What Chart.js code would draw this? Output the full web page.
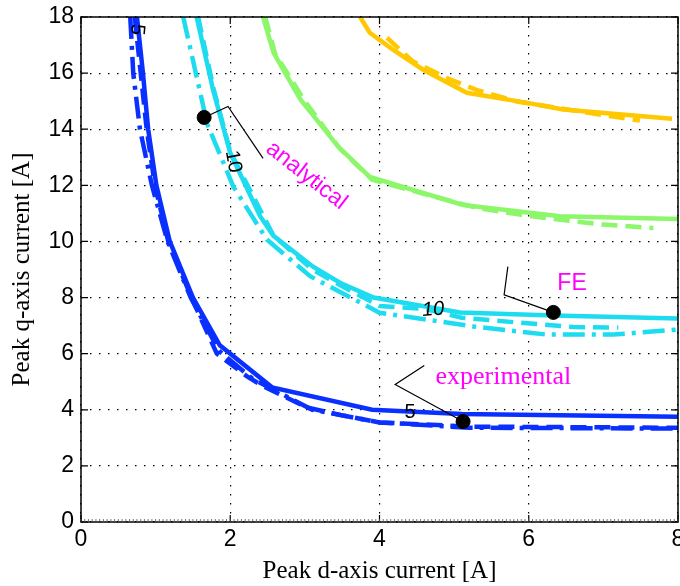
<!DOCTYPE html>
<html>
<head>
<meta charset="utf-8">
<script src="https://cdn.jsdelivr.net/npm/chart.js@4/dist/chart.umd.min.js"></script>
<style>
  html, body { margin: 0; padding: 0; background: #fff; }
  #wrap { width: 680px; height: 586px; }
</style>
</head>
<body>
<div id="wrap"><canvas id="chart"></canvas></div>
<script>
// axis ticks
const xTicks = [0, 2, 4, 6, 8];
const yTicks = [0, 2, 4, 6, 8, 10, 12, 14, 16, 18];

// torque contours [d-current, q-current]
// 5 (blue)
const blueFE = [[0.75,18],[0.83,16],[0.90,14],[1.01,12],[1.19,10],[1.50,8],[1.86,6.3],[2.56,4.8],[3.9,4.0],[5.1,3.85],[8,3.75]];
const blueExp = [[0.72,18],[0.80,16],[0.88,14],[0.99,12],[1.17,10],[1.48,8],[1.82,6.0],[2.22,5.2],[2.44,4.84],[3.03,4.08],[3.5,3.8],[4.0,3.55],[5.2,3.4],[8,3.36]];
const blueAna = [[0.66,18],[0.70,16],[0.79,14],[0.95,12],[1.16,10],[1.47,8],[1.85,6.1],[2.3,5.1],[2.7,4.55],[3.1,4.0],[4.0,3.55],[5.2,3.36],[8,3.33]];
// 10 (cyan)
const cyanFE = [[1.55,18],[1.77,15.4],[2.0,13.15],[2.4,10.9],[2.58,10.2],[3.11,9.1],[3.47,8.53],[3.92,8.0],[5.08,7.47],[6.33,7.36],[8,7.25]];
const cyanExp = [[1.57,18],[1.78,15.4],[2.0,13.2],[2.58,10.2],[3.1,9.0],[3.5,8.4],[4.0,7.7],[4.6,7.6],[5.1,7.28],[5.9,7.1],[6.6,6.95],[7.2,6.93]];
const cyanAna = [[1.37,18],[1.69,14.2],[2.04,11.96],[2.49,10.07],[3.07,8.76],[4.0,7.46],[5.26,6.97],[6.24,6.68],[7.13,6.68],[8,6.86]];
// 15 (green)
const greenFE = [[2.44,18],[2.58,16.73],[2.94,15.06],[3.44,13.4],[3.87,12.3],[5.12,11.3],[6.42,10.9],[8,10.8]];
const greenExp = [[2.47,18],[2.6,16.7],[3.0,15.0],[3.47,13.3],[3.9,12.2],[4.45,11.8],[5.3,11.2],[5.9,10.95],[6.4,10.78],[7.0,10.6],[7.67,10.48]];
// 20 (orange)
const orangeFE = [[3.74,18],[3.87,17.44],[4.18,16.84],[4.58,16.13],[5.17,15.3],[5.98,14.94],[6.46,14.7],[7.92,14.37]];
const orangeExp = [[4.1,17.26],[4.45,16.41],[4.95,15.77],[5.3,15.4],[5.84,14.99],[7.13,14.45],[7.49,14.31]];

// marked points
const markers = [[1.65,14.42],[6.33,7.47],[5.12,3.58]];

// leader lines from the markers to their labels
const leaders = [
  [[1.65,14.42],[1.97,14.81],[2.44,12.96]],
  [[6.33,7.47],[5.67,8.1],[5.72,9.1]],
  [[5.12,3.58],[4.21,4.9],[4.6,5.58]]
];

// texts: [text, x, y, rotation deg, font, colour]
const notes = [
  ["analytical", 3.02, 12.35, 38, "23px 'Liberation Sans'", "#ff00ff"],
  ["FE", 6.58, 8.5, 0, "23px 'Liberation Sans'", "#ff00ff"],
  ["experimental", 5.66, 5.15, 0, "26px 'Liberation Serif'", "#ff00ff"],
  ["5", 0.75, 17.55, 95, "20px 'Liberation Sans'", "#000"],
  ["10", 2.04, 12.85, 80, "20px 'Liberation Sans'", "#000"],
  ["10", 4.72, 7.57, -4, "italic 20px 'Liberation Sans'", "#000"],
  ["5", 4.41, 3.9, 0, "20px 'Liberation Sans'", "#000"]
];

const BLUE = "#0a30ff", CYAN = "#1edcf0", GREEN = "#8cf76a", ORANGE = "#ffc800";
const SOLID = [], DASH = [16, 8], DASHDOT = [22, 7, 4, 7];

function toPts(arr) {
  return arr.map(([x, y]) => ({ x, y }));
}

function curve(data, color, dash) {
  return {
    data: toPts(data),
    showLine: true,
    borderColor: color,
    borderWidth: 4.5,
    borderDash: dash,
    pointRadius: 0,
    fill: false,
    clip: 0
  };
}

const frame = {
  id: "frame",
  afterDatasetsDraw(chart) {
    const { ctx, chartArea: a, scales: { x, y } } = chart;
    ctx.save();
    // leader lines
    ctx.strokeStyle = "#000";
    ctx.lineWidth = 1.2;
    leaders.forEach((pts) => {
      ctx.beginPath();
      pts.forEach(([px, py], i) => {
        const X = x.getPixelForValue(px), Y = y.getPixelForValue(py);
        if (i === 0) ctx.moveTo(X, Y); else ctx.lineTo(X, Y);
      });
      ctx.stroke();
    });
    // texts
    ctx.textAlign = "center";
    ctx.textBaseline = "middle";
    notes.forEach(([t, px, py, rot, font, color]) => {
      ctx.save();
      ctx.translate(x.getPixelForValue(px), y.getPixelForValue(py));
      ctx.rotate(rot * Math.PI / 180);
      ctx.font = font;
      ctx.fillStyle = color;
      ctx.fillText(t, 0, 0);
      ctx.restore();
    });
    // x tick labels (drawn here so they do not pad the plot area)
    ctx.font = "23px 'Liberation Sans'";
    ctx.fillStyle = "#000";
    xTicks.forEach((v) => {
      ctx.fillText(String(v), x.getPixelForValue(v), a.bottom + 18);
    });
    // box
    ctx.strokeStyle = "#000";
    ctx.lineWidth = 1.5;
    ctx.strokeRect(a.left, a.top, a.right - a.left, a.bottom - a.top);
    // inward major ticks
    ctx.lineWidth = 1.2;
    ctx.beginPath();
    xTicks.forEach((v) => {
      const X = x.getPixelForValue(v);
      ctx.moveTo(X, a.bottom); ctx.lineTo(X, a.bottom - 7);
      ctx.moveTo(X, a.top); ctx.lineTo(X, a.top + 7);
    });
    yTicks.forEach((v) => {
      const Y = y.getPixelForValue(v);
      ctx.moveTo(a.left, Y); ctx.lineTo(a.left + 7, Y);
      ctx.moveTo(a.right, Y); ctx.lineTo(a.right - 7, Y);
    });
    ctx.stroke();
    // fine minor ticks on the bottom axis
    ctx.lineWidth = 0.8;
    ctx.strokeStyle = "#555";
    ctx.beginPath();
    for (let v = 0; v <= 8.001; v += 0.05) {
      const X = x.getPixelForValue(v);
      ctx.moveTo(X, a.bottom); ctx.lineTo(X, a.bottom - 3);
    }
    ctx.stroke();
    ctx.restore();
  }
};

const ctx = document.getElementById("chart").getContext("2d");
new Chart(ctx, {
  type: "scatter",
  data: {
    datasets: [
      {
        data: toPts(markers),
        pointRadius: 7,
        pointBackgroundColor: "#000",
        pointBorderColor: "#000",
        showLine: false
      },
      curve(blueFE, BLUE, SOLID),
      curve(blueExp, BLUE, DASH),
      curve(blueAna, BLUE, DASHDOT),
      curve(cyanFE, CYAN, SOLID),
      curve(cyanExp, CYAN, DASH),
      curve(cyanAna, CYAN, DASHDOT),
      curve(greenFE, GREEN, SOLID),
      curve(greenExp, GREEN, DASH),
      curve(orangeFE, ORANGE, SOLID),
      curve(orangeExp, ORANGE, DASH)
    ]
  },
  options: {
    responsive: true,
    maintainAspectRatio: false,
    animation: false,
    events: [],
    layout: { autoPadding: false, padding: { left: 0, top: 17, right: 2, bottom: 0 } },
    plugins: {
      legend: { display: false },
      tooltip: { enabled: false }
    },
    scales: {
      x: {
        type: "linear",
        min: 0,
        max: 8,
        afterFit: (s) => { s.height = 64; },
        afterBuildTicks: (s) => { s.ticks = xTicks.map((v) => ({ value: v })); },
        ticks: { display: false },
        grid: { color: "#000", lineWidth: 1.2, drawTicks: false },
        border: { display: false, dash: [1.5, 7.5] },
        title: {
          display: true,
          text: "Peak d-axis current [A]",
          color: "#000",
          font: { family: "'Liberation Serif'", size: 25, lineHeight: 1.2 },
          padding: { top: 0, bottom: 0 }
        }
      },
      y: {
        type: "linear",
        min: 0,
        max: 18,
        afterFit: (s) => { s.width = 81; s.paddingTop = 0; s.paddingBottom = 0; },
        afterBuildTicks: (s) => { s.ticks = yTicks.map((v) => ({ value: v })); },
        ticks: {
          color: "#000",
          padding: 7,
          font: { family: "'Liberation Sans'", size: 23 }
        },
        grid: { color: "#000", lineWidth: 1.2, drawTicks: false },
        border: { display: false, dash: [1.5, 7.5] },
        title: {
          display: true,
          text: "Peak q-axis current [A]",
          color: "#000",
          font: { family: "'Liberation Serif'", size: 25, lineHeight: 1.2 },
          padding: { top: 7, bottom: 0 }
        }
      }
    }
  },
  plugins: [frame]
});
</script>
</body>
</html>
